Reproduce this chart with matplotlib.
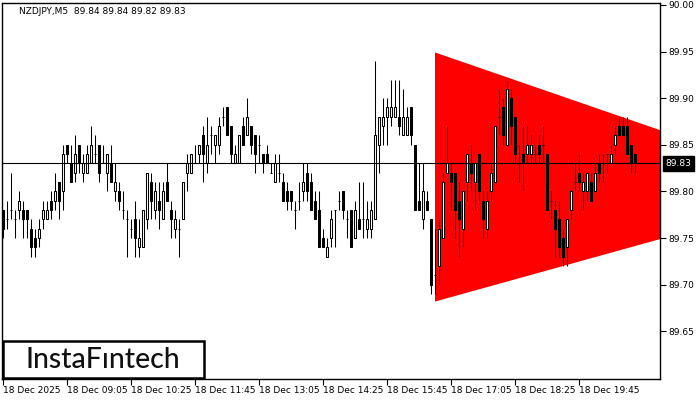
import matplotlib
matplotlib.use("Agg")
import matplotlib.pyplot as plt
import matplotlib.transforms as mtransforms
from matplotlib.patches import Rectangle, Polygon

# NZDJPY M5 candles (open, high, low, close)
opens = [89.78, 89.77, 89.78, 89.77, 89.78, 89.78, 89.78, 89.76, 89.75, 89.75,
         89.77, 89.77, 89.79, 89.79, 89.81, 89.80, 89.85, 89.83, 89.82, 89.85,
         89.82, 89.82, 89.83, 89.84, 89.85, 89.83, 89.82, 89.83, 89.80, 89.80,
         89.78, 89.77, 89.76, 89.77, 89.74, 89.74, 89.77, 89.81, 89.78, 89.79,
         89.77, 89.81, 89.78, 89.76, 89.76, 89.77, 89.82, 89.82, 89.83, 89.84,
         89.86, 89.83, 89.86, 89.85, 89.85, 89.88, 89.89, 89.87, 89.83, 89.83,
         89.87, 89.86, 89.87, 89.86, 89.85, 89.84, 89.84, 89.82, 89.81, 89.82,
         89.81, 89.80, 89.80, 89.78, 89.79, 89.80, 89.82, 89.81, 89.79, 89.78,
         89.75, 89.73, 89.75, 89.78, 89.79, 89.80, 89.77, 89.78, 89.75, 89.77,
         89.77, 89.76, 89.76, 89.77, 89.85, 89.87, 89.88, 89.88, 89.88, 89.88,
         89.86, 89.86, 89.89, 89.85, 89.79, 89.77, 89.79, 89.77, 89.71, 89.72,
         89.75, 89.82, 89.82, 89.82, 89.79, 89.76, 89.81, 89.83, 89.81, 89.84,
         89.79, 89.76, 89.80, 89.81, 89.88, 89.89, 89.85, 89.90, 89.88, 89.83,
         89.84, 89.84, 89.84, 89.84, 89.85, 89.85, 89.84, 89.79, 89.78, 89.77,
         89.75, 89.74, 89.78, 89.81, 89.82, 89.80, 89.80, 89.81, 89.80, 89.83,
         89.83, 89.84, 89.83, 89.85, 89.87, 89.87, 89.87, 89.85, 89.84]
highs = [89.78, 89.79, 89.82, 89.78, 89.80, 89.79, 89.78, 89.77, 89.76, 89.77,
         89.79, 89.79, 89.80, 89.82, 89.81, 89.85, 89.85, 89.85, 89.86, 89.85,
         89.84, 89.85, 89.87, 89.86, 89.85, 89.85, 89.84, 89.85, 89.83, 89.81,
         89.80, 89.78, 89.77, 89.79, 89.77, 89.78, 89.82, 89.82, 89.81, 89.81,
         89.81, 89.83, 89.79, 89.78, 89.77, 89.81, 89.84, 89.84, 89.85, 89.85,
         89.87, 89.88, 89.87, 89.86, 89.88, 89.89, 89.89, 89.87, 89.85, 89.86,
         89.88, 89.90, 89.87, 89.86, 89.86, 89.84, 89.85, 89.83, 89.84, 89.84,
         89.82, 89.81, 89.80, 89.79, 89.81, 89.83, 89.83, 89.82, 89.80, 89.80,
         89.76, 89.75, 89.78, 89.78, 89.80, 89.80, 89.78, 89.78, 89.79, 89.81,
         89.81, 89.79, 89.79, 89.94, 89.88, 89.90, 89.90, 89.92, 89.92, 89.92,
         89.91, 89.89, 89.89, 89.85, 89.83, 89.83, 89.80, 89.77, 89.76, 89.77,
         89.82, 89.87, 89.83, 89.82, 89.81, 89.80, 89.84, 89.85, 89.83, 89.84,
         89.80, 89.80, 89.83, 89.87, 89.91, 89.90, 89.92, 89.91, 89.88, 89.85,
         89.87, 89.87, 89.86, 89.85, 89.86, 89.87, 89.84, 89.80, 89.79, 89.79,
         89.76, 89.77, 89.80, 89.83, 89.84, 89.82, 89.82, 89.82, 89.83, 89.84,
         89.84, 89.84, 89.85, 89.87, 89.88, 89.88, 89.88, 89.85, 89.84]
lows = [89.75, 89.76, 89.77, 89.75, 89.77, 89.75, 89.75, 89.73, 89.73, 89.74,
        89.76, 89.77, 89.77, 89.78, 89.77, 89.78, 89.83, 89.81, 89.81, 89.82,
        89.81, 89.82, 89.83, 89.83, 89.81, 89.83, 89.80, 89.81, 89.79, 89.78,
        89.77, 89.73, 89.75, 89.73, 89.73, 89.74, 89.76, 89.77, 89.77, 89.76,
        89.77, 89.79, 89.75, 89.75, 89.73, 89.77, 89.80, 89.82, 89.83, 89.83,
        89.81, 89.82, 89.84, 89.83, 89.84, 89.87, 89.86, 89.83, 89.83, 89.83,
        89.85, 89.86, 89.84, 89.82, 89.83, 89.82, 89.83, 89.82, 89.81, 89.81,
        89.79, 89.78, 89.78, 89.76, 89.78, 89.79, 89.79, 89.78, 89.77, 89.74,
        89.74, 89.73, 89.74, 89.74, 89.78, 89.77, 89.75, 89.74, 89.75, 89.76,
        89.75, 89.75, 89.75, 89.77, 89.82, 89.85, 89.85, 89.87, 89.88, 89.86,
        89.86, 89.86, 89.85, 89.78, 89.78, 89.76, 89.78, 89.69, 89.69, 89.70,
        89.75, 89.82, 89.78, 89.75, 89.73, 89.74, 89.79, 89.80, 89.78, 89.79,
        89.75, 89.75, 89.79, 89.81, 89.86, 89.85, 89.85, 89.85, 89.83, 89.81,
        89.80, 89.83, 89.83, 89.83, 89.83, 89.83, 89.78, 89.77, 89.73, 89.73,
        89.72, 89.72, 89.77, 89.80, 89.80, 89.78, 89.79, 89.79, 89.80, 89.81,
        89.81, 89.82, 89.83, 89.84, 89.86, 89.86, 89.84, 89.82, 89.82]
closes = [89.76, 89.77, 89.78, 89.77, 89.79, 89.77, 89.77, 89.74, 89.74, 89.76,
          89.78, 89.78, 89.78, 89.80, 89.79, 89.84, 89.84, 89.81, 89.84, 89.83,
          89.83, 89.84, 89.85, 89.84, 89.82, 89.83, 89.84, 89.81, 89.81, 89.79,
          89.78, 89.77, 89.76, 89.75, 89.75, 89.78, 89.82, 89.79, 89.80, 89.78,
          89.80, 89.79, 89.77, 89.77, 89.76, 89.81, 89.83, 89.84, 89.83, 89.85,
          89.84, 89.85, 89.86, 89.86, 89.87, 89.88, 89.86, 89.84, 89.84, 89.86,
          89.85, 89.88, 89.85, 89.84, 89.85, 89.83, 89.83, 89.82, 89.83, 89.82,
          89.79, 89.79, 89.79, 89.78, 89.79, 89.81, 89.80, 89.78, 89.77, 89.74,
          89.74, 89.74, 89.77, 89.78, 89.79, 89.78, 89.77, 89.74, 89.78, 89.76,
          89.77, 89.77, 89.78, 89.86, 89.88, 89.88, 89.89, 89.89, 89.89, 89.87,
          89.88, 89.88, 89.86, 89.78, 89.78, 89.80, 89.78, 89.70, 89.71, 89.76,
          89.81, 89.83, 89.81, 89.78, 89.77, 89.80, 89.84, 89.82, 89.83, 89.80,
          89.77, 89.79, 89.82, 89.87, 89.88, 89.86, 89.91, 89.87, 89.84, 89.83,
          89.83, 89.85, 89.85, 89.84, 89.84, 89.85, 89.78, 89.79, 89.76, 89.74,
          89.73, 89.77, 89.80, 89.81, 89.81, 89.81, 89.82, 89.79, 89.82, 89.82,
          89.83, 89.84, 89.84, 89.86, 89.86, 89.86, 89.84, 89.83, 89.83]

time_labels = ["18 Dec 2025", "18 Dec 09:05", "18 Dec 10:25", "18 Dec 11:45",
               "18 Dec 13:05", "18 Dec 14:25", "18 Dec 15:45", "18 Dec 17:05",
               "18 Dec 18:25", "18 Dec 19:45"]
bars_per_label = 16

price_ticks = [89.65, 89.70, 89.75, 89.80, 89.85, 89.90, 89.95, 90.00]
last_price = 89.83
title = "NZDJPY,M5  89.84 89.84 89.82 89.83"

# symmetrical triangle pattern (bar index, price)
triangle = [(108, 89.949), (208, 89.801), (108, 89.682)]

fs = 6.5
fig = plt.figure(figsize=(7, 4), dpi=100)
ax = fig.add_axes([2 / 700, 21 / 400, 658 / 700, 376 / 400])

ax.add_patch(Polygon(triangle, closed=True, facecolor="#FF0000", edgecolor="none", zorder=1))

x = list(range(len(opens)))
for i in x:
    o, h, l, c = opens[i], highs[i], lows[i], closes[i]
    ax.vlines(i, l, h, color="black", linewidth=0.75, zorder=3)
    face = "white" if c > o else "black"
    ax.bar(i, c - o, bottom=o, width=0.5, facecolor=face, edgecolor="black",
           linewidth=0.75, zorder=4)

ax.axhline(last_price, color="black", linewidth=0.8, zorder=5)

ax.set_xlim(-0.25, 164.25)
ax.set_ylim(89.599, 90.002)

ax.set_xticks([k * bars_per_label for k in range(len(time_labels))])
ax.set_xticklabels(time_labels, ha="left")
ax.tick_params(axis="x", direction="out", length=4, width=0.8, pad=1, labelsize=fs)

ax.yaxis.tick_right()
ax.set_yticks(price_ticks)
ax.set_yticklabels(["%.2f" % p for p in price_ticks])
ax.tick_params(axis="y", direction="out", length=4, width=0.8, pad=2, labelsize=fs)

for s in ax.spines.values():
    s.set_color("black")
    s.set_linewidth(1.0)

trans = mtransforms.blended_transform_factory(ax.transAxes, ax.transData)
ax.text(1.008, last_price, "%.2f" % last_price, transform=trans, ha="left", va="center",
        color="white", fontsize=fs, zorder=10,
        bbox=dict(boxstyle="square,pad=0.3", facecolor="black", edgecolor="black"))

fig.text(19 / 700, 1 - 11 / 400, title, fontsize=fs, color="black", va="center")

# logo box
fig.patches.append(Rectangle((3 / 700, 22 / 400), 201 / 700, 37 / 400, transform=fig.transFigure,
                             facecolor="white", edgecolor="black", linewidth=1.8, zorder=6))
fig.text(103 / 700, 1 - 360 / 400, "InstaF\u0131ntech", fontsize=20.5, family="Lato",
         weight="medium", color="#111111", ha="center", va="center", zorder=7)

fig.savefig("out.png", dpi=100, facecolor="white")
